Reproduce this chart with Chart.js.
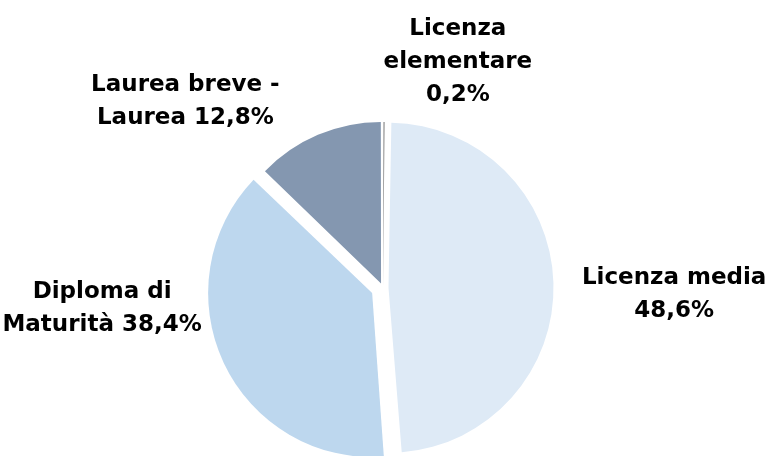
<!DOCTYPE html>
<html>
<head>
<meta charset="utf-8">
<script src="https://cdn.jsdelivr.net/npm/chart.js@4/dist/chart.umd.min.js"></script>
<style>
  html, body { margin: 0; padding: 0; background: #fff; }
  #wrap { width: 771px; height: 456px; position: relative; }
</style>
</head>
<body>
<div id="wrap"><canvas id="pie"></canvas></div>
<script>
// data
const categories = ['Licenza elementare', 'Licenza media', 'Diploma di Maturità', 'Laurea breve - Laurea'];
const values = [0.2, 48.6, 38.4, 12.8];
// how each label wraps, {v} is the percentage
const labelLines = [
  ['Licenza', 'elementare', '{v}'],
  ['Licenza media', '{v}'],
  ['Diploma di', 'Maturità {v}'],
  ['Laurea breve -', 'Laurea {v}']
];

const colors = ['#7f7f7f', '#deeaf6', '#bdd7ee', '#8497b0'];
const offsets = [12, 22, 48, 20];
// label placement: angle (deg clockwise from top) and distance in radii
const labelAngle = [18.3, 91.3, 265.9, 313.4];
const labelDist = [1.49, 1.82, 1.76, 1.70];

function fmt(v) {
  return v.toFixed(1).replace('.', ',') + '%';
}

const outsideLabels = {
  id: 'outsideLabels',
  afterDatasetsDraw(chart) {
    const ctx = chart.ctx;
    const meta = chart.getDatasetMeta(0);
    const vals = chart.data.datasets[0].data;
    ctx.save();
    ctx.font = 'bold 23px "DejaVu Sans"';
    ctx.fillStyle = '#000';
    ctx.textAlign = 'center';
    ctx.textBaseline = 'middle';
    meta.data.forEach((arc, i) => {
      const { x, y, outerRadius } = arc.getProps(['x', 'y', 'outerRadius'], true);
      const a = labelAngle[i] * Math.PI / 180;
      const d = outerRadius * labelDist[i];
      const lx = x + Math.sin(a) * d;
      const ly = y - Math.cos(a) * d;
      const lines = labelLines[i].map(s => s.replace('{v}', fmt(vals[i])));
      const lh = 33;
      const top = ly - (lines.length - 1) * lh / 2;
      lines.forEach((s, k) => ctx.fillText(s, lx, top + k * lh));
    });
    ctx.restore();
  }
};

const ctx = document.getElementById('pie').getContext('2d');
new Chart(ctx, {
  type: 'pie',
  data: {
    labels: categories,
    datasets: [{
      data: values,
      backgroundColor: colors,
      borderWidth: 0,
      offset: offsets
    }]
  },
  options: {
    responsive: true,
    maintainAspectRatio: false,
    animation: false,
    radius: 160,
    rotation: 0,
    layout: { padding: { top: 120, bottom: 0, left: 0, right: 5 } },
    plugins: {
      legend: { display: false },
      tooltip: { enabled: false }
    }
  },
  plugins: [outsideLabels]
});
</script>
</body>
</html>
